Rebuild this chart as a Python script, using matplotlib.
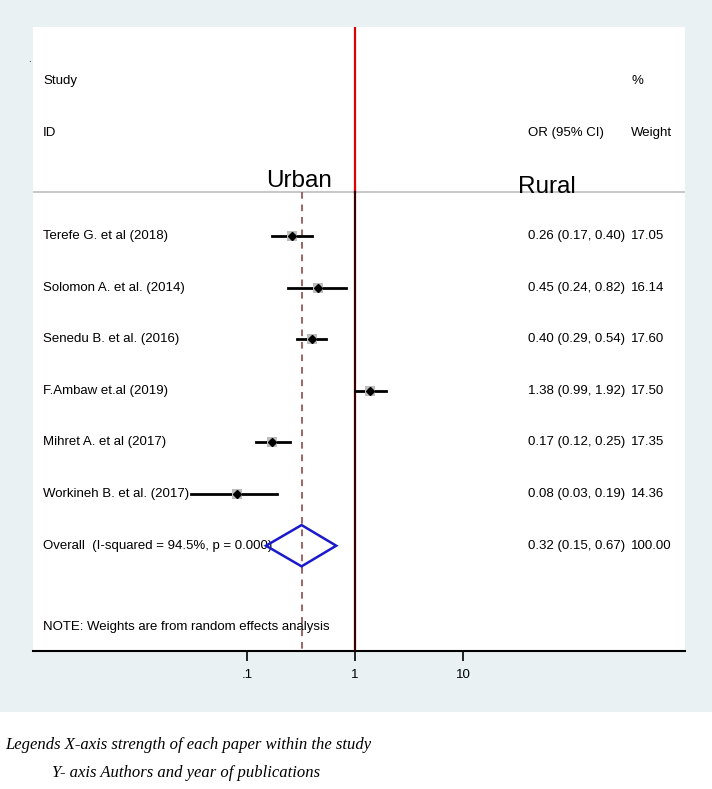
import numpy as np
import matplotlib.pyplot as plt
from matplotlib import font_manager
from matplotlib.patches import Polygon

plt.rcParams['font.family'] = ['Liberation Sans', 'DejaVu Sans']

studies = ["Terefe G. et al (2018)", "Solomon A. et al. (2014)", "Senedu B. et al. (2016)",
           "F.Ambaw et.al (2019)", "Mihret A. et al (2017)", "Workineh B. et al. (2017)"]
orr = [0.26, 0.45, 0.40, 1.38, 0.17, 0.08]
lo = [0.17, 0.24, 0.29, 0.99, 0.12, 0.03]
hi = [0.40, 0.82, 0.54, 1.92, 0.25, 0.19]
weights = [17.05, 16.14, 17.60, 17.50, 17.35, 14.36]
overall = (0.32, 0.15, 0.67)
overall_label = "Overall  (I-squared = 94.5%, p = 0.000)"
xticks = [0.1, 1, 10]
xticklabels = [".1", "1", "10"]

# narrow font for the big Urban / Rural labels if available
names = {f.name for f in font_manager.fontManager.ttflist}
if 'Liberation Sans Narrow' in names:
    big_family, big_size = ['Liberation Sans Narrow'], 21
else:
    big_family, big_size = ['Liberation Sans', 'DejaVu Sans'], 17.5

W, H = 712, 789
fig = plt.figure(figsize=(W / 100, H / 100), dpi=100)
fig.patch.set_facecolor('white')

# light panel behind the plot
bg = fig.add_axes([0, 1 - 712 / H, 1, 712 / H])
bg.set_facecolor('#e9f1f3')
bg.set_xticks([])
bg.set_yticks([])
for s in bg.spines.values():
    s.set_visible(False)

x0, x1, ytop, ybot = 33, 685, 27, 651
ax = fig.add_axes([x0 / W, 1 - ybot / H, (x1 - x0) / W, (ybot - ytop) / H])
ax.set_facecolor('white')
ax.set_xscale('log')
px_dec = 108.0
ax.set_xlim(10 ** ((x0 - 355) / px_dec), 10 ** ((x1 - 355) / px_dec))
ax.set_ylim(9.04, -3.05)
for s in ['top', 'left', 'right']:
    ax.spines[s].set_visible(False)
ax.spines['bottom'].set_linewidth(1.5)
ax.set_yticks([])
ax.set_xticks(xticks)
ax.set_xticklabels(xticklabels, fontsize=9.5)
ax.minorticks_off()
ax.tick_params(axis='x', length=7, width=1.2, pad=6)

fs = 9.5
xl = 10 ** ((43 - 355) / px_dec)
xn = 10 ** ((528 - 355) / px_dec)
xw = 10 ** ((631 - 355) / px_dec)
xo = 10 ** ((604 - 355) / px_dec)
xu = 10 ** ((332 - 355) / px_dec)
xr = 10 ** ((547 - 355) / px_dec)
sep = 0.15

# header
ax.text(xl, -2, "Study", fontsize=fs, va='center')
ax.text(xl, -1, "ID", fontsize=fs, va='center')
ax.text(xw, -2, "%", fontsize=fs, va='center')
ax.text(xw, -1, "Weight", fontsize=fs, va='center')
ax.text(xo, -1, "OR (95% CI)", fontsize=fs, va='center', ha='right')
ax.text(xu, 0.05, "Urban", fontsize=big_size, family=big_family, ha='right', va='baseline')
ax.text(xr, 0.17, "Rural", fontsize=big_size, family=big_family, ha='center', va='baseline')
ax.axhline(sep, color='#c8c8c8', lw=1.5, zorder=1)

# reference lines
ax.plot([1, 1], [-3.05, sep], color='#e00000', lw=1.6, zorder=3)
ax.plot([1, 1], [sep, 9.04], color='#3a0000', lw=1.6, zorder=3)
ax.plot([overall[0]] * 2, [sep, 9.04], color='#8f4a4a', lw=1.2,
        dashes=(4, 3.5), zorder=2)

for i, (name, o, l, h, w) in enumerate(zip(studies, orr, lo, hi, weights)):
    y = i + 1
    ax.plot([l, h], [y, y], color='black', lw=2, zorder=4)
    ax.plot(o, y, marker='s', color='#bdbdbd', markersize=np.sqrt(w) * 1.75,
            markeredgewidth=0, zorder=4)
    ax.plot(o, y, marker='D', color='black', markersize=4.5, zorder=5)
    ax.text(xl, y, name, fontsize=fs, va='center')
    ax.text(xn, y, f"{o:.2f} ({l:.2f}, {h:.2f})", fontsize=fs, va='center')
    ax.text(xw, y, f"{w:.2f}", fontsize=fs, va='center')

yo = len(studies) + 1
ax.add_patch(Polygon([[overall[1], yo], [overall[0], yo - 0.4], [overall[2], yo],
                      [overall[0], yo + 0.4]], closed=True, fill=False,
                     edgecolor='#1a1acc', lw=1.8, zorder=5))
ax.text(xl, yo, overall_label, fontsize=fs, va='center')
ax.text(xn, yo, f"{overall[0]:.2f} ({overall[1]:.2f}, {overall[2]:.2f})",
        fontsize=fs, va='center')
ax.text(xw, yo, f"{sum(weights):.2f}", fontsize=fs, va='center')
ax.text(xl, 8.58, "NOTE: Weights are from random effects analysis", fontsize=fs, va='center')

fig.text(28 / W, 1 - 62 / H, ".", fontsize=7)

fig.text(5 / W, 1 - 745 / H, "Legends X-axis strength of each paper within the study",
         family=['Liberation Serif', 'DejaVu Serif'], style='italic', fontsize=12, va='center')
fig.text(52 / W, 1 - 773 / H, "Y- axis Authors and year of publications",
         family=['Liberation Serif', 'DejaVu Serif'], style='italic', fontsize=12, va='center')

fig.savefig('out.png', dpi=100)
